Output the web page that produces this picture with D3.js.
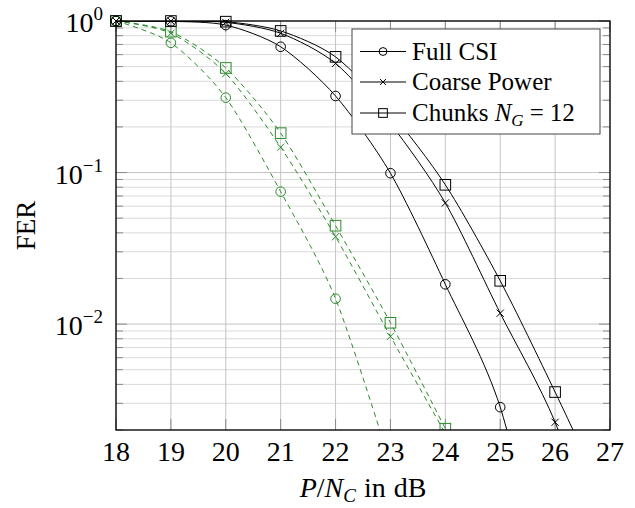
<!DOCTYPE html>
<html>
<head>
<meta charset="utf-8">
<script src="https://cdn.jsdelivr.net/npm/d3@7"></script>
<style>
  body { margin: 0; background: #fff; }
  svg { display: block; }
  text { font-family: "Liberation Serif", "Times New Roman", serif; fill: #000; }
</style>
</head>
<body>
<svg id="chart" width="635" height="508"></svg>
<script>
// ---- data ----
const snrBlack = [18, 19, 20, 21, 22, 23, 24, 25, 26, 27];
const fullCSI      = [1, 0.995, 0.94, 0.676, 0.32, 0.099, 0.0183, 0.00283, 0.0001];
const coarsePower  = [1, 1, 0.98, 0.83, 0.525, 0.21, 0.063, 0.0118, 0.00225, 0.0002];
const chunks12     = [1, 1, 0.99, 0.86, 0.58, 0.25, 0.083, 0.0193, 0.00356, 0.0006];

const snrGreen = [18, 19, 20, 21, 22, 23, 24];
const fullCSIGreen     = [1, 0.718, 0.312, 0.0748, 0.0147, 0.0012];
const coarsePowerGreen = [1, 0.83, 0.45, 0.147, 0.0377, 0.0083, 0.0019];
const chunks12Green    = [1, 0.85, 0.49, 0.182, 0.0446, 0.0102, 0.00204];

const xTicks = [18, 19, 20, 21, 22, 23, 24, 25, 26, 27];
const yMajorExp = [0, -1, -2];
const legendLabels = ["Full CSI", "Coarse Power", "Chunks"];

// ---- layout ----
const svg = d3.select("#chart");
const L = 116, R = 610, T = 21, B = 430;
const x = d3.scaleLinear().domain([18, 27]).range([L, R]);
const y = d3.scaleLog().domain([0.002, 1]).range([B, T]);

const green = "#2b8a2b";
const black = "#000";

// clip paths
const defs = svg.append("defs");
defs.append("clipPath").attr("id", "clipPlot")
  .append("rect").attr("x", L).attr("y", T).attr("width", R - L).attr("height", B - T);
defs.append("clipPath").attr("id", "clipMarks")
  .append("rect").attr("x", L - 10).attr("y", T - 10).attr("width", R - L + 20).attr("height", B - T + 10);

// minor y values
const minorY = [];
for (let e = -3; e <= -1; e++) {
  for (let m = 2; m <= 9; m++) {
    const v = m * Math.pow(10, e);
    if (v >= 0.002 && v < 1) minorY.push(v);
  }
}
const majorY = yMajorExp.map(e => Math.pow(10, e));

// grid
const grid = svg.append("g");
grid.selectAll(".minor").data(minorY).enter().append("line")
  .attr("x1", L).attr("x2", R).attr("y1", d => y(d)).attr("y2", d => y(d))
  .attr("stroke", "#dadada").attr("stroke-width", 1);
grid.selectAll(".majorY").data(majorY).enter().append("line")
  .attr("x1", L).attr("x2", R).attr("y1", d => y(d)).attr("y2", d => y(d))
  .attr("stroke", "#c4c4c4").attr("stroke-width", 1);
grid.selectAll(".majorX").data(xTicks).enter().append("line")
  .attr("x1", d => x(d)).attr("x2", d => x(d)).attr("y1", T).attr("y2", B)
  .attr("stroke", "#c4c4c4").attr("stroke-width", 1);

// ticks (inward, all sides)
const ticks = svg.append("g").attr("stroke", "#8a8a8a").attr("stroke-width", 1);
xTicks.forEach(v => {
  ticks.append("line").attr("x1", x(v)).attr("x2", x(v)).attr("y1", B).attr("y2", B - 11);
  ticks.append("line").attr("x1", x(v)).attr("x2", x(v)).attr("y1", T).attr("y2", T + 11);
});
majorY.forEach(v => {
  ticks.append("line").attr("x1", L).attr("x2", L + 11).attr("y1", y(v)).attr("y2", y(v));
  ticks.append("line").attr("x1", R).attr("x2", R - 11).attr("y1", y(v)).attr("y2", y(v));
});
minorY.forEach(v => {
  ticks.append("line").attr("x1", L).attr("x2", L + 7).attr("y1", y(v)).attr("y2", y(v));
  ticks.append("line").attr("x1", R).attr("x2", R - 7).attr("y1", y(v)).attr("y2", y(v));
});

// curves
const lineGen = d3.line()
  .x(d => x(d[0])).y(d => y(d[1]))
  .curve(d3.curveCardinal.tension(0.2));

const series = [
  { xs: snrGreen, ys: fullCSIGreen, color: green, dash: "5,4", mark: "circle" },
  { xs: snrGreen, ys: coarsePowerGreen, color: green, dash: "5,4", mark: "cross" },
  { xs: snrGreen, ys: chunks12Green, color: green, dash: "5,4", mark: "square" },
  { xs: snrBlack, ys: fullCSI, color: black, dash: null, mark: "circle" },
  { xs: snrBlack, ys: coarsePower, color: black, dash: null, mark: "cross" },
  { xs: snrBlack, ys: chunks12, color: black, dash: null, mark: "square" }
];

const plotG = svg.append("g").attr("clip-path", "url(#clipPlot)");
const markG = svg.append("g").attr("clip-path", "url(#clipMarks)");

function drawMark(g, mark, cx, cy, color, s) {
  if (mark === "circle") {
    g.append("circle").attr("cx", cx).attr("cy", cy).attr("r", 4.8 * s)
      .attr("fill", "none").attr("stroke", color).attr("stroke-width", 1);
  } else if (mark === "square") {
    const h = 5.3 * s;
    g.append("rect").attr("x", cx - h).attr("y", cy - h).attr("width", 2 * h).attr("height", 2 * h)
      .attr("fill", "none").attr("stroke", color).attr("stroke-width", 1);
  } else {
    const h = 3.6 * s;
    g.append("path").attr("d", `M${cx - h},${cy - h}L${cx + h},${cy + h}M${cx - h},${cy + h}L${cx + h},${cy - h}`)
      .attr("fill", "none").attr("stroke", color).attr("stroke-width", 1);
  }
}

series.forEach(s => {
  const pts = s.ys.map((v, i) => [s.xs[i], v]);
  plotG.append("path").attr("d", lineGen(pts))
    .attr("fill", "none").attr("stroke", s.color).attr("stroke-width", 1)
    .attr("stroke-dasharray", s.dash);
  pts.filter(p => p[1] >= 0.0015).forEach(p => {
    drawMark(markG, s.mark, x(p[0]), y(p[1]), s.color, 1);
  });
});

// axis frame
svg.append("rect").attr("x", L).attr("y", T).attr("width", R - L).attr("height", B - T)
  .attr("fill", "none").attr("stroke", "#000").attr("stroke-width", 1.3);

// x tick labels
svg.append("g").selectAll("text").data(xTicks).enter().append("text")
  .attr("x", d => x(d)).attr("y", 461).attr("text-anchor", "middle")
  .attr("font-size", 28).text(d => d);

// y tick labels
yMajorExp.forEach(e => {
  const t = svg.append("text").attr("x", 103).attr("y", y(Math.pow(10, e)) + 11)
    .attr("text-anchor", "end").attr("font-size", 28);
  t.append("tspan").text("10");
  t.append("tspan").attr("font-size", 19).attr("dy", -12).text(e === 0 ? "0" : "\u2212" + (-e));
});

// axis titles
svg.append("text").attr("transform", `translate(35, ${(T + B) / 2}) rotate(-90)`)
  .attr("text-anchor", "middle").attr("font-size", 27).text("FER");

const xt = svg.append("text").attr("x", (L + R) / 2).attr("y", 497)
  .attr("text-anchor", "middle").attr("font-size", 28);
xt.append("tspan").attr("font-style", "italic").text("P");
xt.append("tspan").text("/");
xt.append("tspan").attr("font-style", "italic").text("N");
xt.append("tspan").attr("font-style", "italic").attr("font-size", 19).attr("dy", 5).text("C");
xt.append("tspan").attr("dy", -5).attr("dx", 8).text("in");
xt.append("tspan").attr("dx", 8).text("dB");

// legend
const lg = svg.append("g");
lg.append("rect").attr("x", 352).attr("y", 29).attr("width", 248).attr("height", 105)
  .attr("fill", "#fff").attr("stroke", "#444").attr("stroke-width", 1);
const legMarks = ["circle", "cross", "square"];
const rowsY = [51.5, 82, 113];
legendLabels.forEach((lab, i) => {
  const cy = rowsY[i];
  lg.append("line").attr("x1", 360).attr("x2", 406).attr("y1", cy).attr("y2", cy)
    .attr("stroke", "#000").attr("stroke-width", 1);
  drawMark(lg, legMarks[i], 383, cy, "#000", 0.82);
  const t = lg.append("text").attr("x", 412).attr("y", cy + 8).attr("font-size", 25);
  t.append("tspan").text(lab);
  if (i === 2) {
    t.append("tspan").text(" ");
    t.append("tspan").attr("font-style", "italic").text("N");
    t.append("tspan").attr("font-style", "italic").attr("font-size", 17).attr("dy", 5).text("G");
    t.append("tspan").attr("dy", -5).attr("dx", 6).text("=");
    t.append("tspan").attr("dx", 6).text("12");
  }
});
</script>
</body>
</html>
